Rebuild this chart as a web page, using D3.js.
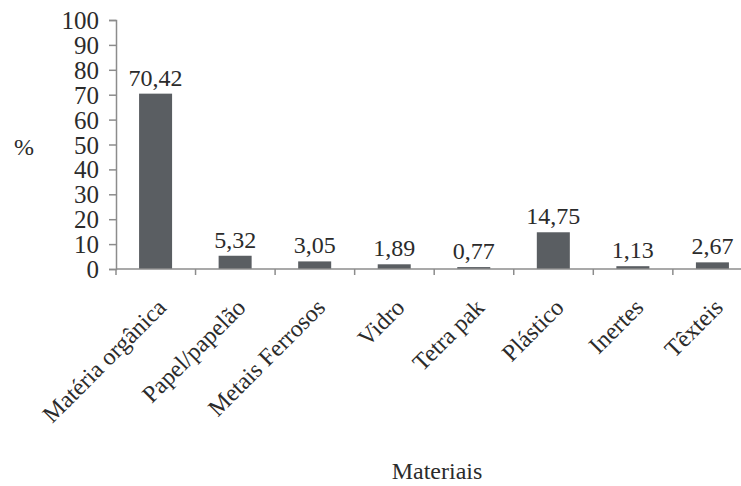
<!DOCTYPE html>
<html>
<head>
<meta charset="utf-8">
<script src="https://cdn.jsdelivr.net/npm/d3@7"></script>
<style>
	body { margin: 0; background: #fff; }
</style>
</head>
<body>
<svg id="chart" width="741" height="486"></svg>
<script>
const materiais = ["Matéria orgânica", "Papel/papelão", "Metais Ferrosos", "Vidro", "Tetra pak", "Plástico", "Inertes", "Têxteis"];
const percentagens = [70.42, 5.32, 3.05, 1.89, 0.77, 14.75, 1.13, 2.67];
const yTicks = [0, 10, 20, 30, 40, 50, 60, 70, 80, 90, 100];

const serif = "'Liberation Serif', 'Times New Roman', 'DejaVu Serif', serif";
const textColor = "#2b2b2b";
const svg = d3.select("#chart")
	.attr("font-family", serif);
const plotLeft = 116, plotRight = 752, plotTop = 20, plotBottom = 269;
const axisColor = "#8c8c8c";

const x = d3.scaleBand()
	.domain(materiais)
	.range([plotLeft, plotRight])
	.paddingInner(0.585)
	.paddingOuter(0.29);

const y = d3.scaleLinear()
	.domain([0, 100])
	.range([plotBottom, plotTop]);

// y axis
const yAxis = svg.append("g")
	.attr("transform", `translate(${plotLeft},0)`)
	.call(d3.axisLeft(y).tickValues(yTicks).tickSize(7).tickPadding(10));
yAxis.attr("font-family", serif).attr("font-size", 25);
yAxis.select(".domain").attr("stroke", axisColor).attr("stroke-width", 1.5);
yAxis.selectAll(".tick line").attr("stroke", axisColor).attr("stroke-width", 1.5);
yAxis.selectAll(".tick text")
	.attr("fill", textColor)
	.attr("dy", "0.34em");

// bars
svg.append("g")
	.selectAll("rect")
	.data(materiais)
	.join("rect")
	.attr("x", d => x(d))
	.attr("width", x.bandwidth())
	.attr("y", (d, i) => y(percentagens[i]))
	.attr("height", (d, i) => y(0) - y(percentagens[i]))
	.attr("fill", "#5a5e62");

// x axis line and separators between categories
const step = x.step();
const edges = d3.range(materiais.length + 1).map(i => plotLeft + i * step);
svg.append("line")
	.attr("x1", plotLeft).attr("x2", plotRight)
	.attr("y1", plotBottom).attr("y2", plotBottom)
	.attr("stroke", axisColor).attr("stroke-width", 1.5);
svg.append("g")
	.selectAll("line")
	.data(edges)
	.join("line")
	.attr("x1", d => d).attr("x2", d => d)
	.attr("y1", plotBottom).attr("y2", plotBottom + 6)
	.attr("stroke", axisColor).attr("stroke-width", 1.5);

// value labels
svg.append("g")
	.selectAll("text")
	.data(materiais)
	.join("text")
	.attr("x", d => x(d) + x.bandwidth() / 2)
	.attr("y", (d, i) => y(percentagens[i]) - 8)
	.attr("text-anchor", "middle")
	.attr("font-size", 24)
	.attr("fill", textColor)
	.text((d, i) => d3.format(".2f")(percentagens[i]).replace(".", ","));

// category labels
svg.append("g")
	.selectAll("text")
	.data(materiais)
	.join("text")
	.attr("transform", d => `translate(${x(d) + x.bandwidth() / 2},${plotBottom + 28}) rotate(-45)`)
	.attr("text-anchor", "end")
	.attr("dy", "0.7em")
	.attr("font-size", 24)
	.attr("fill", textColor)
	.text(d => d);

// axis titles
svg.append("text")
	.attr("x", 24).attr("y", 155)
	.attr("text-anchor", "middle")
	.attr("font-size", 24)
	.attr("fill", textColor)
	.text("%");

svg.append("text")
	.attr("x", 437).attr("y", 479)
	.attr("text-anchor", "middle")
	.attr("font-size", 24)
	.attr("fill", textColor)
	.text("Materiais");
</script>
</body>
</html>
